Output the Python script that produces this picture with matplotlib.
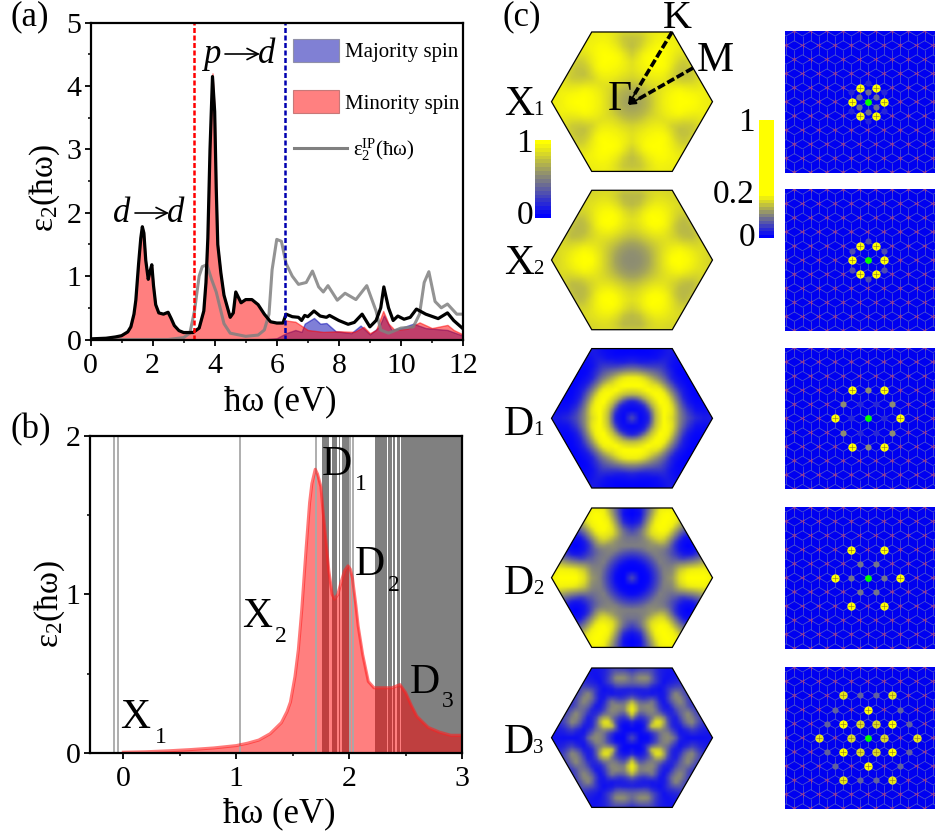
import numpy as np
import matplotlib
matplotlib.use("Agg")
import matplotlib.pyplot as plt
from matplotlib.collections import LineCollection
from matplotlib.colors import LinearSegmentedColormap
from matplotlib.patches import Polygon, Rectangle
from matplotlib.ticker import MultipleLocator

plt.rcParams["font.family"] = ["Liberation Serif", "DejaVu Serif"]
plt.rcParams["mathtext.fontset"] = "custom"
plt.rcParams["mathtext.rm"] = "Liberation Serif"
plt.rcParams["mathtext.it"] = "Liberation Serif:italic"
plt.rcParams["mathtext.default"] = "rm"

# panel (a)
total_x = [0, .5, .8, 1, 1.2, 1.3, 1.4, 1.46, 1.55, 1.62, 1.67, 1.72, 1.78, 1.86, 1.92, 1.975, 2.03, 2.1, 2.2, 2.35,
           2.5, 2.6, 2.7, 2.85, 3.0, 3.3, 3.5, 3.65, 3.72, 3.78, 3.85, 3.93, 4.0, 4.05, 4.1, 4.2, 4.3, 4.5, 4.6, 4.68,
           4.85, 5.0, 5.2, 5.4, 5.6, 5.8, 6.0, 6.2, 6.3, 6.5, 6.7, 6.8, 6.9, 7.0, 7.2, 7.4, 7.6, 7.7, 8.0,
           8.3, 8.5, 8.75, 9.0, 9.2, 9.35, 9.45, 9.6, 9.75, 9.9, 10.1, 10.3, 10.5, 10.8, 11.2, 11.5, 11.7, 12]
total_y = [.01, .02, .04, .06, .12, .2, .4, .62, 1.2, 1.6, 1.78, 1.68, 1.25, .95, 1.08, 1.18, .85, .55, .42, .4,
           .43, .33, .22, .14, .11, .11, .18, .45, .9, 1.6, 3.0, 4.15, 3.6, 2.4, 1.5, 1.05, .7, .35, .42, .75,
           .58, .63, .63, .55, .4, .28, .26, .26, .4, .36, .35, .3, .38, .36, .45, .37, .35, .38, .3,
           .24, .27, .4, .2, .3, .5, .83, .5, .3, .37, .32, .35, .48, .4, .33, .42, .3, .17]
minority_x = total_x[:47] + [6.2, 6.3, 6.6, 7.0, 7.5, 8.0, 8.5, 8.8, 9.0, 9.2, 9.43, 9.6, 9.8, 10.2, 10.6, 11.0, 11.5, 11.7, 12]
minority_y = total_y[:31] + [4.2] + total_y[32:47] + [.26, .3, .28, .15, .12, .13, .12, .2, .1, .15, .45, .25, .15, .17, .27, .18, .23, .15, .08]
majority_x = [0, 5.5, 6.0, 6.3, 6.6, 6.8, 6.9, 7.2, 7.4, 7.6, 7.9, 8.4, 8.7, 9.0, 9.3, 9.45, 9.7, 10.0, 10.4, 10.8, 11.5, 12]
majority_y = [0, 0, .02, .1, .15, .12, .25, .34, .25, .26, .13, .1, .22, .08, .2, .38, .15, .18, .25, .18, .15, .06]
ip_x = [0, 2.5, 3.0, 3.2, 3.35, 3.5, 3.6, 3.75, 3.9, 4.05, 4.2, 4.3, 4.5, 5.0, 5.4, 5.6, 5.75, 5.85, 6.0, 6.15,
        6.3, 6.5, 6.7, 6.95, 7.15, 7.35, 7.5, 7.65, 7.95, 8.2, 8.55, 8.9, 9.2, 9.35, 9.6, 10.0, 10.4, 10.6,
        10.75, 10.9, 11.1, 11.3, 11.5, 11.8, 12]
ip_y = [0, 0, .03, .1, .45, 1.0, 1.15, 1.18, .95, .75, .45, .25, .1, .05, .07, .15, .4, 1.1, 1.58, 1.55,
        1.2, 1.0, .87, .9, 1.08, .83, .75, .85, .62, .73, .63, .85, .45, .15, .1, .18, .2, .4,
        .9, 1.07, .6, .5, .56, .4, .4]
gap_lines = [3.33, 6.28]

# panel (b)
low_x = [0, .2, .4, .6, .8, 1, 1.1, 1.2, 1.3, 1.4, 1.45, 1.48, 1.52, 1.55, 1.58, 1.62, 1.65, 1.67, 1.7, 1.72, 1.75,
         1.77, 1.8, 1.82, 1.85, 1.87, 1.9, 1.93, 1.96, 1.99, 2.01, 2.03, 2.06, 2.08, 2.12, 2.17, 2.22, 2.3, 2.38,
         2.45, 2.5, 2.55, 2.6, 2.7, 2.8, 2.9, 3]
low_y = [.003, .006, .012, .02, .03, .045, .06, .08, .12, .19, .26, .32, .48, .65, .9, 1.3, 1.58, 1.7, 1.79, 1.76, 1.68,
         1.52, 1.3, 1.15, 1.0, .97, 1.0, 1.08, 1.15, 1.18, 1.16, 1.1, .93, .8, .62, .45, .41, .41, .41,
         .43, .38, .3, .23, .16, .13, .11, .11]
single_levels = [-.08, -.05, 1.03, 1.705, 2.01, 2.03]
level_bands = [(1.758, 1.826), (1.847, 1.891), (1.906, 1.92), (1.935, 2.0), (2.23, 2.333),
               (2.348, 2.383), (2.39, 2.405), (2.42, 2.45), (2.46, 3.0)]

# panel (c): |amplitude| on the BZ, rows = r/R, columns 0 .. 30 deg away from a vertex
radii_std = [0, .1, .2, .3, .4, .5, .6, .7, .8, .9, 1]
radii_d3 = [0, .1, .2, .29, .365, .44, .52, .6, .68, .76, .85, 1]
phi_cols = [0, 7.5, 15, 22.5, 30]
map_x1 = [[.62, .62, .62, .62, .62], [.65, .65, .65, .65, .65], [.72, .72, .72, .72, .72],
          [.85, .85, .85, .84, .83], [.94, .93, .92, .90, .88], [.98, .98, .96, .92, .88],
          [1, 1, .97, .88, .80], [1, .98, .92, .80, .74], [.98, .96, .88, .78, .76],
          [.94, .94, .90, .85, .85], [.92, .92, .90, .88, .88]]
map_x2 = [[.55, .55, .55, .55, .55], [.56, .56, .56, .56, .56], [.63, .63, .63, .63, .63],
          [.78, .77, .77, .76, .76], [.9, .9, .88, .86, .85], [1, .98, .94, .9, .88],
          [1, 1, .95, .86, .82], [.98, .96, .88, .76, .72], [.92, .9, .82, .72, .72],
          [.86, .86, .84, .8, .8], [.82, .84, .84, .84, .84]]
map_d1 = [[.3, .3, .3, .3, .3], [.02, .02, .02, .02, .02], [.1, .1, .1, .1, .1],
          [.75, .75, .75, .75, .75], [1, 1, 1, 1, 1], [.85, .9, .95, .95, .95],
          [.5, .5, .48, .48, .48], [.28, .22, .12, .1, .12], [.15, .06, .02, .02, .02],
          [.1, .04, .02, 0, 0], [.12, .06, .04, .02, .02]]
map_d2 = [[.3, .3, .3, .3, .3], [0, 0, 0, 0, 0], [.03, .03, .03, .03, .03],
          [.25, .25, .25, .25, .25], [.5, .5, .5, .5, .5], [.6, .55, .5, .45, .45],
          [.9, .85, .6, .35, .25], [1, .95, .55, .12, .05], [1, .95, .5, .05, 0],
          [1, .95, .5, .1, .03], [.95, .9, .55, .2, .1]]
map_d3 = [[.3, .3, .3, .3, .3], [.02, .02, .02, .02, .02], [.03, .03, .05, .1, .15],
          [.22, .22, .3, .55, .85], [.5, .48, .5, .85, 1], [.55, .55, .45, .55, .8],
          [.5, .28, .15, .15, .2], [.12, .06, .06, .1, .12], [.05, .1, .38, .42, .4],
          [.05, .25, .58, .58, .42], [.05, .15, .35, .3, .2], [.08, .08, .1, .1, .1]]

# real-space spots: radius (px), start angle (deg), count, weight
spots_x1 = [(16.2, 0, 6, 1.0), (9.7, 30, 6, .42), (19, 30, 6, .15)]
spots_x2 = [(16.2, 0, 6, 1.0), (18.7, 30, 6, .3)]
spots_d1 = [(32.4, 0, 6, 1.0), (28.2, 30, 6, .55), (16.3, 0, 6, .16)]
spots_d2 = [(32.6, 0, 6, 1.0), (16.3, 0, 6, .45)]
spots_d3 = [(49, 0, 6, .9), (28.2, 30, 6, 1.0), (16.3, 0, 6, .85), (43.2, 19.1, 6, .38), (43.2, 40.9, 6, .38)]

maps = [map_x1, map_x2, map_d1, map_d2, map_d3]
map_radii = [radii_std, radii_std, radii_std, radii_std, radii_d3]
spots = [spots_x1, spots_x2, spots_d1, spots_d2, spots_d3]
names = ["X", "X", "D", "D", "D"]
subs = ["1", "2", "1", "2", "3"]
centers_y = [101.7, 260, 418.3, 577.7, 737.7]
label_base = [115, 274, 435, 594, 753]

W, H = 935, 834
fig = plt.figure(figsize=(W / 100, H / 100), dpi=100)
by = LinearSegmentedColormap.from_list("by", ["#0000ff", "#ffff00"])


def px_axes(left, top, right, bottom):
    return fig.add_axes([left / W, 1 - bottom / H, (right - left) / W, (bottom - top) / H])


def style_axes(ax, fs):
    for s in ax.spines.values():
        s.set_linewidth(1.6)
    ax.tick_params(which="major", length=4.5, width=1.3, labelsize=fs, pad=2)
    ax.tick_params(which="minor", length=2.5, width=1.1)
    ax.tick_params(axis="x", which="major", pad=5)


def sample_table(table, radii, r, phi):
    """Look up the polar table at r/R, phi: first along phi for every row, then along r."""
    tab = np.array(table)
    rows = np.array([np.interp(phi, phi_cols, row) for row in tab])
    return np.interp(r, radii, rows)


# (a)
ax = px_axes(90.5, 22.7, 463, 339.5)
ax.fill_between(majority_x, majority_y, color="#0000b0", alpha=.5, lw=1)
ax.fill_between(minority_x, minority_y, color="#ff0000", alpha=.5, lw=1)
ax.plot(ip_x, ip_y, color="#808080", alpha=.85, lw=2.2)
ax.plot(total_x, total_y, color="black", lw=2.3)
ax.axvline(gap_lines[0], color="#ff0000", lw=1.8, ls=(0, (2, 1)))
ax.axvline(gap_lines[1], color="#0000b0", lw=1.8, ls=(0, (2, 1)))
ax.set_xlim(0, 12)
ax.set_ylim(0, 5)
ax.xaxis.set_major_locator(MultipleLocator(2))
ax.xaxis.set_minor_locator(MultipleLocator(1))
ax.yaxis.set_major_locator(MultipleLocator(1))
ax.yaxis.set_minor_locator(MultipleLocator(.5))
style_axes(ax, 21.5)
ax.set_xlabel("ħω (eV)", fontsize=25)
ax.set_ylabel("ε$_2$(ħω)", fontsize=24)
ax.xaxis.set_label_coords(.51, -.145)
ax.yaxis.set_label_coords(-.077, .48)

# (b)
bx = px_axes(89.5, 436, 462, 752.7)
for x in single_levels:
    bx.axvline(x, color="#a8a8a8", lw=1.3)
for x0, x1 in level_bands:
    bx.axvspan(x0, x1, color="#808080", lw=0)
bx.fill_between(low_x, low_y, color="#ff0000", alpha=.5, lw=0)
bx.plot(low_x, low_y, color="#ff2020", alpha=.6, lw=2.2)
bx.set_xlim(-.3, 3)
bx.set_ylim(0, 2)
bx.xaxis.set_major_locator(MultipleLocator(1))
bx.xaxis.set_minor_locator(MultipleLocator(.5))
bx.yaxis.set_major_locator(MultipleLocator(1))
bx.yaxis.set_minor_locator(MultipleLocator(.5))
style_axes(bx, 21.5)
bx.set_xlabel("ħω (eV)", fontsize=25)
bx.set_ylabel("ε$_2$(ħω)", fontsize=24)
bx.xaxis.set_label_coords(.51, -.14)
bx.yaxis.set_label_coords(-.06, .47)

# (c) right column: spots on the reciprocal lattice
a = 16.3
for cy, spot_list in zip(centers_y, spots):
    top = cy - 70.7
    sx = px_axes(785, top, 935, top + 141.7)
    sx.set_xlim(785 - 867.7, 935 - 867.7)
    sx.set_ylim(70.85, -70.85)
    sx.set_facecolor("#0000f0")
    sx.set_xticks([])
    sx.set_yticks([])
    for s in sx.spines.values():
        s.set_visible(False)
    segs, reds = [], []
    for j in range(-7, 8):
        for i in range(-12, 13):
            px = (i + j / 2) * a
            py = j * a * np.sqrt(3) / 2
            for ang in np.radians(np.arange(30, 360, 60)):
                ux, uy = np.cos(ang), np.sin(ang)
                segs.append([(px, py), (px + ux * a / np.sqrt(3), py + uy * a / np.sqrt(3))])
                reds.append([(px, py), (px + ux * 2.5, py + uy * 2.5)])
    sx.add_collection(LineCollection(segs, colors="#5a64c8", linewidths=.6, alpha=.8, zorder=1))
    sx.add_collection(LineCollection(reds, colors="#a03c8c", linewidths=.7, alpha=.8, zorder=1))
    for rad, start, n, w in spot_list:
        ang = np.radians(start + np.arange(n) * 360 / n)
        size = 36 if w > .7 else 20
        dots_x, dots_y = rad * np.cos(ang), rad * np.sin(ang)
        sx.scatter(dots_x, dots_y, s=size, color=by(w), lw=0, zorder=2)
        if w > .7:
            sx.scatter(dots_x, dots_y, s=14, marker="+", color="#a08a20", lw=.5, zorder=3)
    sx.scatter([0], [0], s=24, color="#00ff00", lw=0, zorder=4)

# overlay in pixel coordinates for the hexagons, colour bars and annotations
canvas = fig.add_axes([0, 0, 1, 1], zorder=5)
canvas.set_xlim(0, W)
canvas.set_ylim(H, 0)
canvas.set_autoscale_on(False)
canvas.axis("off")

R = 80.5
grid = np.arange(-84, 84.1, 4.0)
gx, gy = np.meshgrid(grid, grid)
gr = np.hypot(gx, gy) / R
gphi = np.abs(((np.degrees(np.arctan2(gy, gx)) + 30) % 60) - 30)
for cy, table, radii, name, sub, base in zip(centers_y, maps, map_radii, names, subs, label_base):
    vals = np.array([[sample_table(table, radii, min(r, 1), p) for r, p in zip(r_row, p_row)]
                     for r_row, p_row in zip(gr, gphi)])
    im = canvas.imshow(vals, cmap=by, vmin=0, vmax=1, aspect="auto", interpolation="gaussian",
                       extent=(632 - 86, 632 + 86, cy + 86, cy - 86))
    ang = np.radians(np.arange(0, 360, 60))
    hexagon = Polygon(np.c_[632 + R * np.cos(ang), cy + R * np.sin(ang)], closed=True,
                      fill=False, ec="black", lw=.9, zorder=3)
    canvas.add_patch(hexagon)
    im.set_clip_path(hexagon)
    canvas.text(504, base, name, fontsize=30, va="baseline", ha="left")
    canvas.text(533, base, sub, fontsize=15, va="baseline", ha="left")

# colour bars
left_bar = np.linspace(0, 1, 20)[::-1].reshape(-1, 1)
canvas.imshow(left_bar, cmap=by, vmin=0, vmax=1, extent=(535, 551, 218, 140), aspect="auto", interpolation="nearest")
right_bar = np.clip(np.linspace(0, 1, 34) / .36, 0, 1)[::-1].reshape(-1, 1)
canvas.imshow(right_bar, cmap=by, vmin=0, vmax=1, extent=(759, 774, 238, 120), aspect="auto", interpolation="nearest")
canvas.text(533, 152, "1", fontsize=24, ha="right", va="baseline")
canvas.text(533, 224, "0", fontsize=24, ha="right", va="baseline")
canvas.text(755, 131, "1", fontsize=24, ha="right", va="baseline")
canvas.text(755, 203, "0.2", fontsize=24, ha="right", va="baseline")
canvas.text(755, 246, "0", fontsize=24, ha="right", va="baseline")

# Gamma-K, Gamma-M
gamma = (628, 105)
for tip in [(672, 32), (693, 68)]:
    canvas.plot([tip[0], gamma[0] + .15 * (tip[0] - gamma[0])], [tip[1], gamma[1] + .15 * (tip[1] - gamma[1])],
                color="black", lw=2.6, ls=(0, (2.2, .8)))
    canvas.annotate("", xy=gamma, xytext=(gamma[0] + .2 * (tip[0] - gamma[0]), gamma[1] + .2 * (tip[1] - gamma[1])),
                    arrowprops=dict(arrowstyle="-|>,head_length=.45,head_width=.2", color="black",
                                    lw=1.2, shrinkA=0, shrinkB=0))
canvas.text(608, 110, "Γ", fontsize=30, va="baseline")
canvas.text(697, 71, "M", fontsize=30, va="baseline")
canvas.text(663, 28, "K", fontsize=29, va="baseline")

# panel letters
canvas.text(10, 25, "(a)", fontsize=25, va="baseline")
canvas.text(10, 438, "(b)", fontsize=25, va="baseline")
canvas.text(503, 25, "(c)", fontsize=25, va="baseline")

# transition labels in (a)
for x0, base, arrow in [(203, 63, (225, 258)), (113, 222, (135, 167))]:
    first = "p" if base == 63 else "d"
    canvas.text(x0, base, first, fontsize=25, style="italic", va="baseline")
    canvas.text(arrow[1], base, "d", fontsize=25, style="italic", va="baseline")
    canvas.annotate("", xy=(arrow[1] + 2, base - 9), xytext=(arrow[0], base - 9),
                    arrowprops=dict(arrowstyle="->,head_length=.8,head_width=.4", color="black", lw=1.2,
                                    shrinkA=0, shrinkB=0))

# legend of (a)
canvas.add_patch(Rectangle((292.5, 38.5), 46.5, 23.5, fc="#8080d4", ec="#9090a8", lw=.8))
canvas.add_patch(Rectangle((292.5, 90), 46.5, 22.5, fc="#ff8080", ec="#c87878", lw=.8))
canvas.plot([294, 347], [148, 148], color="#808080", lw=2.2)
canvas.text(345, 57, "Majority spin", fontsize=15, va="baseline")
canvas.text(345, 109, "Minority spin", fontsize=15, va="baseline")
canvas.text(353, 156, "ε$_2^{\\mathrm{IP}}$(ħω)", fontsize=15, va="baseline")

# state labels in (b)
for x, y, nm, xs, ys, sb in [(120, 728, "X", 155, 743, "1"), (242, 627, "X", 275, 642, "2"),
                             (322, 475, "D", 355, 490, "1"), (355, 575, "D", 388, 591, "2"),
                             (410, 693, "D", 442, 707, "3")]:
    canvas.text(x, y, nm, fontsize=30, va="baseline")
    canvas.text(xs, ys, sb, fontsize=17, va="baseline")

fig.savefig("out.png", dpi=100)
